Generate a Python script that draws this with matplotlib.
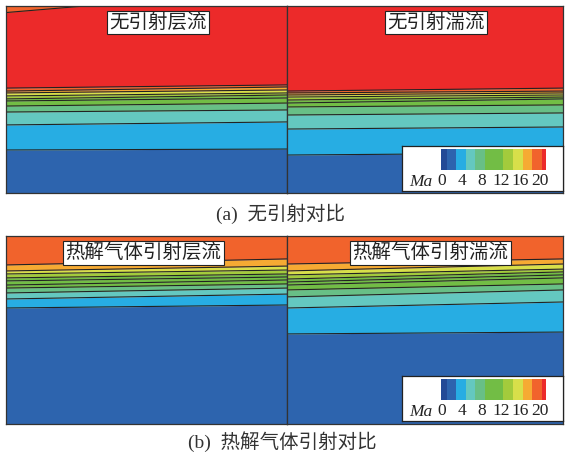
import numpy as np
import matplotlib
matplotlib.use("Agg")
import matplotlib.pyplot as plt
from matplotlib.colors import ListedColormap, BoundaryNorm
from matplotlib.cm import ScalarMappable

W, H = 566, 459
CJK = ["Liberation Serif", "Noto Sans CJK SC"]

# colour scale of the Ma legend (bottom -> top)
ma_colors = ["#234a96", "#2d64ae", "#27ade3", "#64c8c0", "#68bf86", "#72bd45",
             "#a3cb3c", "#d8df4a", "#f6aa33", "#f1632c", "#ec2a2a"]
ma_levels = [-0.2, 1, 2.8, 4.8, 6.7, 8.8, 12.4, 14.5, 16.5, 18.4, 20.3, 21.2]
ma_ticks = [0, 4, 8, 12, 16, 20]

C = dict(zip(["navy", "blue", "lblue", "teal", "mgreen", "green",
              "ygreen", "yellow", "orange", "rorange", "red"], ma_colors))

# band colours bottom -> top
bands_top = ["blue", "lblue", "teal", "mgreen", "green", "green",
             "ygreen", "yellow", "orange", "rorange", "red"]
bands_bot = ["blue", "lblue", "teal", "mgreen", "green", "green",
             "green", "ygreen", "yellow", "orange", "rorange"]

# contour boundaries, % of panel height, at left / right edge of each panel
tl_left = [23.0, 36.4, 43.3, 46.5, 49.2, 50.3, 51.9, 53.5, 54.5, 56.1]
tl_right = [23.5, 38.0, 44.4, 48.1, 50.8, 52.4, 53.5, 55.1, 56.7, 57.8]
tr_left = [20.3, 34.2, 41.7, 46.0, 48.1, 49.7, 51.3, 52.4, 53.5, 54.5]
tr_right = [21.4, 35.3, 42.8, 47.1, 50.3, 51.3, 52.4, 53.5, 54.5, 56.1]
bl_left = [61.7, 66.5, 69.7, 72.3, 73.9, 76.1, 77.7, 79.8, 81.4, 84.6]
bl_right = [63.3, 69.1, 72.3, 74.5, 76.6, 78.2, 79.8, 81.9, 84.0, 87.8]
br_left = [47.9, 61.7, 67.6, 71.3, 73.9, 75.5, 77.1, 79.3, 81.4, 85.1]
br_right = [48.9, 64.9, 71.3, 74.5, 77.7, 79.3, 80.9, 82.4, 85.1, 87.8]

# small orange sliver at the top-left corner of the first panel
sliver_x = [0.0, 0.28]
sliver_y = [96.5, 100.0]

titles = ["无引射层流", "无引射湍流", "热解气体引射层流", "热解气体引射湍流"]
captions = ["(a)  无引射对比", "(b)  热解气体引射对比"]


def rect(x0, y0, x1, y1):
    return [x0 / W, 1 - y1 / H, (x1 - x0) / W, (y1 - y0) / H]


def draw_panel(ax, left, right, bands, title, tx):
    lo_l, lo_r = [0.0] + left, [0.0] + right
    hi_l, hi_r = left + [100.0], right + [100.0]
    for i, name in enumerate(bands):
        ax.fill_between([0, 1], [lo_l[i], lo_r[i]], [hi_l[i], hi_r[i]],
                        color=C[name], lw=0)
    for l, r in zip(left, right):
        ax.plot([0, 1], [l, r], color="#222222", lw=0.8)
    ax.set_xlim(0, 1)
    ax.set_ylim(0, 100)
    ax.set_xticks([])
    ax.set_yticks([])
    for s in ax.spines.values():
        s.set_color("#333333")
        s.set_linewidth(0.9)
    ax.text(tx, 0.91, title, transform=ax.transAxes, ha="center", va="center",
            fontsize=14, family=CJK, color="#222222",
            bbox=dict(boxstyle="square,pad=0.12", fc="white", ec="#222222", lw=0.8))


def draw_legend(fig, y0):
    box = fig.add_axes(rect(402, y0, 563, y0 + 45))
    box.set_xticks([])
    box.set_yticks([])
    for s in box.spines.values():
        s.set_color("#222222")
        s.set_linewidth(0.9)
    cax = fig.add_axes(rect(441, y0 + 3, 546, y0 + 24))
    sm = ScalarMappable(norm=BoundaryNorm(ma_levels, len(ma_colors)),
                        cmap=ListedColormap(ma_colors))
    cb = fig.colorbar(sm, cax=cax, orientation="horizontal",
                      spacing="proportional", ticks=ma_ticks)
    cb.outline.set_visible(False)
    cb.minorticks_off()
    cax.tick_params(length=0, pad=2, labelsize=12.5)
    for t in cax.get_xticklabels():
        t.set_family("Liberation Serif")
        t.set_color("#222222")
    fig.text(421 / W, 1 - (y0 + 36) / H, "Ma", ha="center", va="center",
             fontsize=12.5, style="italic", family="Liberation Serif", color="#222222")


fig = plt.figure(figsize=(W / 100, H / 100), dpi=100)

ax = fig.add_axes(rect(6, 6, 287, 193))
draw_panel(ax, tl_left, tl_right, bands_top, titles[0], 0.54)
ax.fill_between(sliver_x, sliver_y, [100, 100], color=C["rorange"], lw=0)
ax.plot(sliver_x, sliver_y, color="#222222", lw=0.8)

ax = fig.add_axes(rect(287, 6, 563, 193))
draw_panel(ax, tr_left, tr_right, bands_top, titles[1], 0.54)

ax = fig.add_axes(rect(6, 236, 287, 424))
draw_panel(ax, bl_left, bl_right, bands_bot, titles[2], 0.49)

ax = fig.add_axes(rect(287, 236, 563, 424))
draw_panel(ax, br_left, br_right, bands_bot, titles[3], 0.52)

draw_legend(fig, 146)
draw_legend(fig, 376)

fig.text(281 / W, 1 - 214 / H, captions[0], ha="center", va="center",
         fontsize=14, family=CJK, color="#333333")
fig.text(282 / W, 1 - 442 / H, captions[1], ha="center", va="center",
         fontsize=14, family=CJK, color="#333333")

fig.savefig("out.png", dpi=100)
